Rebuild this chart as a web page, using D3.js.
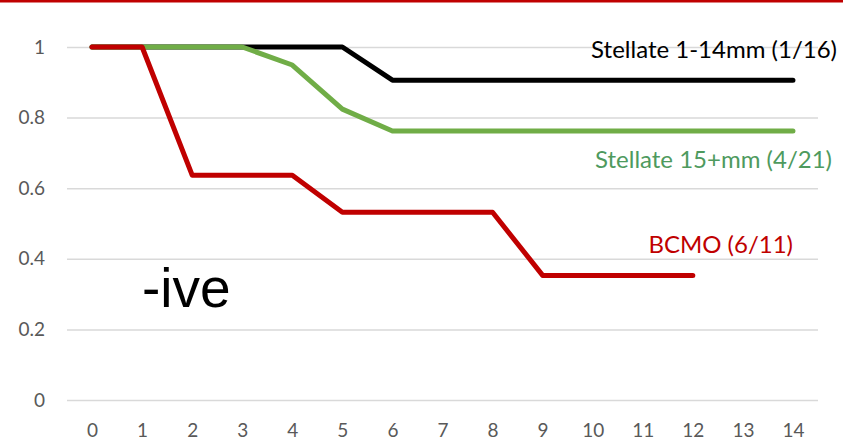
<!DOCTYPE html>
<html>
<head>
<meta charset="utf-8">
<script src="https://cdn.jsdelivr.net/npm/d3@7"></script>
<style>
  html, body { margin: 0; padding: 0; background: #fff; }
  svg { display: block; }
</style>
</head>
<body>
<svg id="chart" width="843" height="440"></svg>
<script>
// Time points (x-axis categories)
const months = [0, 1, 2, 3, 4, 5, 6, 7, 8, 9, 10, 11, 12, 13, 14];
const yTicks = [0, 0.2, 0.4, 0.6, 0.8, 1];

// Survival estimates per group
const stellateSmall = [1, 1, 1, 1, 1, 1, 0.906, 0.906, 0.906, 0.906, 0.906, 0.906, 0.906, 0.906, 0.906];
const stellateLarge = [1, 1, 1, 1, 0.949, 0.824, 0.762, 0.762, 0.762, 0.762, 0.762, 0.762, 0.762, 0.762, 0.762];
const bcmo = [1, 1, 0.637, 0.637, 0.637, 0.532, 0.532, 0.532, 0.532, 0.353, 0.353, 0.353, 0.353];

const seriesNames = ["Stellate 1-14mm (1/16)", "Stellate 15+mm (4/21)", "BCMO (6/11)"];

const svg = d3.select("#chart");
const W = 843, H = 440;

// Top banner rule
svg.append("rect").attr("x", 0).attr("y", 0).attr("width", W).attr("height", 2.5).attr("fill", "#c00000");

const x = d3.scalePoint().domain(months).range([67, 818]).padding(0.5);
const y = d3.scaleLinear().domain([0, 1]).range([400, 47]);

// Y axis with gridlines
const yAxis = svg.append("g")
  .attr("transform", "translate(67,0)")
  .call(d3.axisLeft(y).tickValues(yTicks).tickFormat(d3.format("~g")).tickSize(-751).tickPadding(22));
yAxis.select(".domain").remove();
yAxis.selectAll(".tick line").attr("stroke", "#d9d9d9").attr("stroke-width", 1.5);
yAxis.selectAll(".tick text")
  .attr("fill", "#595959").style("font-family", "Lato, 'Open Sans', sans-serif").style("font-size", "19px");

// X axis labels
const xAxis = svg.append("g")
  .attr("transform", "translate(0,400)")
  .call(d3.axisBottom(x).tickSize(0).tickPadding(24));
xAxis.select(".domain").remove();
xAxis.selectAll(".tick text")
  .attr("fill", "#595959").style("font-family", "Lato, 'Open Sans', sans-serif").style("font-size", "19px");

const line = d3.line().x((d, i) => x(months[i])).y(d => y(d));

const series = [
  { values: stellateSmall, color: "#000000" },
  { values: stellateLarge, color: "#70ad47" },
  { values: bcmo, color: "#c00000" }
];

svg.append("g").selectAll("path")
  .data(series)
  .join("path")
  .attr("d", d => line(d.values))
  .attr("fill", "none")
  .attr("stroke", d => d.color)
  .attr("stroke-width", 5)
  .attr("stroke-linejoin", "round")
  .attr("stroke-linecap", "round");

// Series labels
const labels = [
  { text: seriesNames[0], x: 837, y: 58, color: "#000000" },
  { text: seriesNames[1], x: 832, y: 168, color: "#4e9a5e" },
  { text: seriesNames[2], x: 793, y: 253, color: "#c00000" }
];
svg.append("g").selectAll("text")
  .data(labels)
  .join("text")
  .attr("x", d => d.x)
  .attr("y", d => d.y)
  .attr("text-anchor", "end")
  .attr("fill", d => d.color)
  .style("font-family", "Lato, 'Open Sans', sans-serif")
  .style("font-size", "24px")
  .text(d => d.text);

// Group annotation
svg.append("text")
  .attr("x", 142)
  .attr("y", 307)
  .attr("fill", "#000")
  .style("font-family", "'Liberation Sans', Arial, sans-serif")
  .style("font-size", "55px")
  .text("-ive");
</script>
</body>
</html>
